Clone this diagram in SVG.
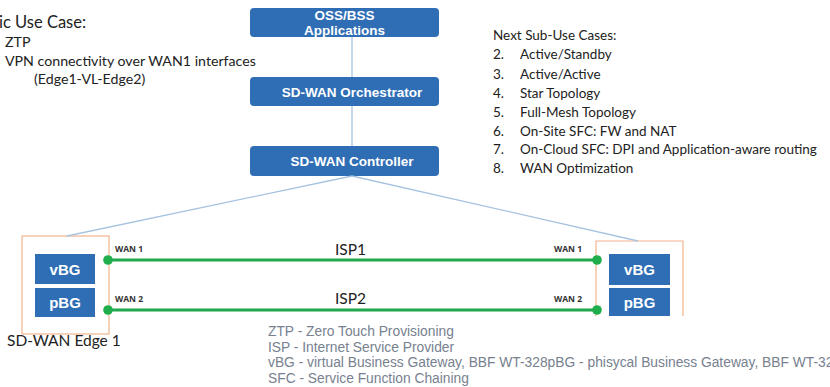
<svg xmlns="http://www.w3.org/2000/svg" width="830" height="387" viewBox="0 0 830 387">
  <style>
    .blk { fill: #2f6eb5; }
    .blk-t { font-family: "Liberation Sans", Arial, sans-serif; font-weight: bold; fill: #ffffff; text-anchor: middle; }
    .edge { fill: #ffffff; stroke: #f2b48c; stroke-width: 1.2; }
    .ctl { stroke: #a8c3e0; stroke-width: 1.3; fill: none; }
    .wan { stroke: #1fa84c; stroke-width: 3; fill: none; }
    .dot { fill: #1fae4b; }
    .note { font-family: Lato, "Open Sans", sans-serif; fill: #222222; }
    .wl { font-family: "Open Sans", sans-serif; font-size: 8.5px; font-weight: bold; fill: #333333; }
    .foot { font-family: "Liberation Sans", Arial, sans-serif; font-size: 13.8px; fill: #77818f; }
  </style>

  <g id="oss-bss">
    <rect class="blk" x="250" y="8" width="189" height="29" rx="4"/>
    <text class="blk-t" x="344.5" y="20" font-size="13.5">OSS/BSS</text>
    <text class="blk-t" x="344.5" y="35" font-size="13.5">Applications</text>
  </g>

  <g id="orchestrator">
    <rect class="blk" x="250" y="77" width="189" height="29" rx="4"/>
    <text class="blk-t" x="352" y="96.5" font-size="13.5">SD-WAN Orchestrator</text>
  </g>

  <g id="controller">
    <rect class="blk" x="250" y="146" width="189" height="30" rx="4"/>
    <text class="blk-t" x="352" y="166" font-size="13.5">SD-WAN Controller</text>
  </g>

  <g id="edge1">
    <rect class="edge" x="22" y="236" width="87" height="98"/>
    <rect class="blk" x="35" y="254" width="60" height="30"/>
    <text class="blk-t" x="65" y="274.5" font-size="15">vBG</text>
    <rect class="blk" x="35" y="288" width="60" height="29"/>
    <text class="blk-t" x="65" y="307.5" font-size="15">pBG</text>
    <text class="note" x="7" y="346" font-size="15.5">SD-WAN Edge 1</text>
  </g>

  <g id="edge2">
    <path class="edge" d="M596 316 V241 H683 V316"/>
    <rect class="blk" x="609" y="254" width="61" height="31"/>
    <text class="blk-t" x="639.5" y="275" font-size="15">vBG</text>
    <rect class="blk" x="609" y="288" width="61" height="28"/>
    <text class="blk-t" x="639.5" y="307.5" font-size="15">pBG</text>
  </g>

  <!-- management links and WAN links -->
  <g id="connectors">
    <line class="ctl" x1="352" y1="37" x2="352" y2="77"/>
    <line class="ctl" x1="352" y1="106" x2="352" y2="146"/>
    <line class="ctl" x1="352" y1="176" x2="67" y2="236"/>
    <line class="ctl" x1="352" y1="176" x2="638" y2="241"/>
    <line class="wan" x1="108" y1="260" x2="597" y2="260"/>
    <line class="wan" x1="108" y1="310" x2="597" y2="310"/>
    <circle class="dot" cx="108" cy="260" r="4.8"/>
    <circle class="dot" cx="108" cy="310" r="4.8"/>
    <circle class="dot" cx="597" cy="260" r="4.8"/>
    <circle class="dot" cx="597" cy="310" r="4.8"/>
    <text class="note" x="335" y="255" font-size="15.5">ISP1</text>
    <text class="note" x="335" y="304" font-size="15.5">ISP2</text>
    <text class="wl" x="115" y="252">WAN 1</text>
    <text class="wl" x="115" y="302">WAN 2</text>
    <text class="wl" x="554" y="252">WAN 1</text>
    <text class="wl" x="554" y="302">WAN 2</text>
  </g>

  <!-- basic use case notes -->
  <g id="basic-use-case" class="note">
    <text x="-1" y="28" font-size="16.5">ic Use Case:</text>
    <text x="5" y="47" font-size="14.2">ZTP</text>
    <text x="5" y="66" font-size="14.2">VPN connectivity over WAN1 interfaces</text>
    <text x="34" y="84" font-size="14.2">(Edge1-VL-Edge2)</text>
  </g>

  <!-- follow-up use cases -->
  <g id="next-use-cases" class="note" font-size="13.5">
    <text x="493" y="40">Next Sub-Use Cases:</text>
    <text x="493" y="59">2.</text><text x="520" y="59">Active/Standby</text>
    <text x="493" y="79">3.</text><text x="520" y="79">Active/Active</text>
    <text x="493" y="98">4.</text><text x="520" y="98">Star Topology</text>
    <text x="493" y="117">5.</text><text x="520" y="117">Full-Mesh Topology</text>
    <text x="493" y="136">6.</text><text x="520" y="136">On-Site SFC: FW and NAT</text>
    <text x="493" y="154">7.</text><text x="520" y="154">On-Cloud SFC: DPI and Application-aware routing</text>
    <text x="493" y="173">8.</text><text x="520" y="173">WAN Optimization</text>
  </g>

  <!-- abbreviations -->
  <g id="legend">
    <text class="foot" x="268" y="336">ZTP - Zero Touch Provisioning</text>
    <text class="foot" x="268" y="351.5">ISP -  Internet Service Provider</text>
    <text class="foot" x="268" y="367">vBG - virtual Business Gateway, BBF WT-328pBG - phisycal Business Gateway, BBF WT-32</text>
    <text class="foot" x="268" y="382.5">SFC - Service Function Chaining</text>
  </g>
</svg>
